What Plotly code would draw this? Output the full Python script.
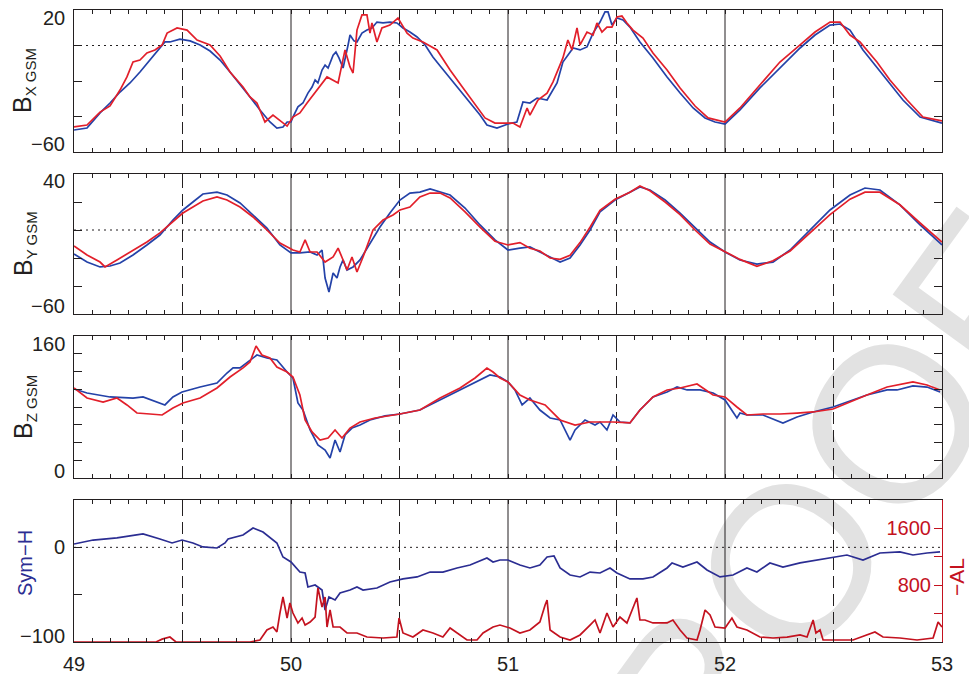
import plotly.graph_objects as go

# ---------------- data (day of year, values) ----------------
bx_a_t = [49.000, 49.060, 49.120, 49.166, 49.212, 49.258, 49.304, 49.350, 49.396, 49.419, 49.442, 49.488,
          49.535, 49.581, 49.627, 49.673, 49.719, 49.765, 49.811, 49.857, 49.903, 49.935, 49.963, 49.982,
          50.000, 50.009, 50.032, 50.055, 50.078, 50.097, 50.111, 50.124, 50.143, 50.157, 50.171, 50.194,
          50.207, 50.221, 50.240, 50.263, 50.272, 50.290, 50.304, 50.327, 50.350, 50.373, 50.396, 50.424,
          50.456, 50.488, 50.516, 50.548, 50.581, 50.618, 50.654, 50.691, 50.733,
          50.779, 50.825, 50.871, 50.903, 50.949, 51.000, 51.041, 51.069, 51.101, 51.134, 51.180, 51.226,
          51.253, 51.300, 51.332, 51.364, 51.392, 51.424, 51.447, 51.461, 51.479, 51.502, 51.530, 51.562,
          51.608, 51.668, 51.733, 51.793, 51.853, 51.908, 51.954, 52.000, 52.069, 52.161, 52.253, 52.346,
          52.415, 52.484, 52.530, 52.576, 52.636, 52.728, 52.820, 52.899, 53.000]
bx_a = [-47.6, -46.5, -38.0, -32.4, -26.2, -21.1, -14.9, -8.2, -2.0, 2.0, 2.0, 3.6,
        2.6, 0.3, -3.1, -8.2, -14.9, -22.3, -29.0, -36.3, -43.1, -46.5, -45.9, -43.1,
        -43.1, -40.3, -34.6, -32.4, -26.8, -23.4, -19.4, -21.1, -13.8, -11.0, -12.7, -5.4,
        -3.7, -7.0, -12.7, 0.3, 5.9, 2.6, 2.0, 7.0, 8.7, 9.9, 13.2, 12.7,
        13.2, 12.7, 9.9, 7.6, 4.8, 0.3, -6.5, -12.1, -18.3,
        -25.1, -31.8, -39.2, -44.8, -46.5, -44.2, -43.1, -31.8, -32.4, -29.6, -30.7, -21.1,
        -9.3, -1.4, -2.5, -0.8, 7.0, 13.2, 18.9, 18.9, 11.5, 15.5, 14.4, 10.4,
        2.0, -7.0, -17.7, -26.8, -35.2, -40.8, -43.1, -44.2, -36.3, -23.9, -12.7, -1.4,
        5.9, 11.5, 12.1, 8.7, -2.5, -16.6, -30.7, -40.3, -43.7]

bx_b_t = [49.000, 49.060, 49.120, 49.166, 49.212, 49.244, 49.272, 49.304, 49.336, 49.373, 49.406, 49.429,
          49.475, 49.521, 49.567, 49.627, 49.673, 49.719, 49.779, 49.811, 49.843, 49.880, 49.917, 49.949,
          49.982, 50.009, 50.041, 50.074, 50.120, 50.166, 50.217, 50.249, 50.272, 50.286, 50.304, 50.327,
          50.350, 50.364, 50.373, 50.396, 50.419, 50.456, 50.493, 50.535, 50.562, 50.608, 50.673, 50.733,
          50.793, 50.848, 50.894, 50.940, 50.986, 51.023, 51.055, 51.088, 51.101, 51.138, 51.180, 51.207,
          51.253, 51.276, 51.295, 51.318, 51.332, 51.364, 51.392, 51.410, 51.433, 51.456, 51.479, 51.502,
          51.525, 51.548, 51.576, 51.622, 51.668, 51.733, 51.793, 51.862, 51.922, 52.000, 52.069, 52.161,
          52.253, 52.346, 52.415, 52.484, 52.530, 52.576, 52.622, 52.700, 52.760, 52.839, 52.912, 53.000]
bx_b = [-45.9, -44.8, -37.5, -34.0, -25.1, -17.7, -9.3, -8.2, -4.2, -2.5, 0.3, 7.0,
        9.9, 8.7, 3.1, 0.3, -5.9, -14.9, -23.4, -29.0, -32.4, -43.1, -39.2, -42.0,
        -45.4, -40.3, -38.0, -32.4, -25.1, -17.7, -21.1, -2.5, -12.1, -15.5, 8.7, 17.2,
        17.2, 7.0, 12.7, 2.0, 9.9, 11.5, 15.5, 7.0, 4.2, 2.0, -2.5, -13.8,
        -23.9, -33.5, -40.8, -43.7, -43.7, -43.7, -45.9, -35.2, -39.2, -30.7, -26.8, -20.6,
        -7.0, 3.1, -2.5, 9.9, 0.3, 7.6, 5.9, 12.7, 7.6, 10.4, 10.4, 16.1,
        16.6, 12.7, 8.7, 4.2, -4.2, -13.8, -23.9, -34.1, -40.8, -43.1, -35.2, -22.3,
        -9.3, 0.3, 7.6, 13.2, 13.2, 5.9, 2.0, -9.3, -19.4, -30.7, -40.3, -42.5]

by_a_t = [49.000, 49.060, 49.120, 49.166, 49.212, 49.272, 49.336, 49.396, 49.456, 49.502, 49.548, 49.594,
          49.659, 49.705, 49.765, 49.825, 49.889, 49.949, 50.000, 50.041, 50.088, 50.120, 50.143, 50.157,
          50.175, 50.194, 50.212, 50.226, 50.240, 50.258, 50.286, 50.318, 50.364, 50.410, 50.456, 50.502,
          50.548, 50.594, 50.641, 50.687, 50.733, 50.802, 50.871, 50.940, 51.000, 51.055, 51.101, 51.147,
          51.194, 51.240, 51.286, 51.332, 51.378, 51.424, 51.493, 51.562, 51.608, 51.654, 51.724, 51.793,
          51.862, 51.931, 52.000, 52.069, 52.147, 52.221, 52.300, 52.392, 52.484, 52.576, 52.645, 52.714,
          52.806, 52.899, 53.000]
by_a = [-17.1, -22.9, -26.4, -25.7, -23.6, -17.9, -10.7, -3.6, 7.1, 14.3, 20.0, 25.7,
        27.1, 25.0, 19.3, 10.7, 1.4, -10.7, -16.4, -16.4, -15.7, -17.9, -14.3, -34.3,
        -44.3, -30.7, -34.3, -26.4, -21.4, -28.6, -26.4, -21.4, -9.3, 2.1, 12.1, 21.4,
        26.4, 27.1, 29.3, 27.1, 25.0, 15.7, 3.6, -7.1, -14.3, -12.9, -12.1, -15.7,
        -19.3, -22.9, -20.0, -10.7, 0.0, 12.9, 21.4, 27.1, 30.7, 28.6, 21.4, 12.1,
        1.4, -8.6, -15.7, -21.4, -24.3, -22.9, -14.3, 0.0, 14.3, 25.0, 30.0, 28.6,
        17.9, 3.6, -10.7]

by_b_t = [49.000, 49.060, 49.120, 49.143, 49.198, 49.272, 49.336, 49.396, 49.456, 49.502, 49.548, 49.594,
          49.659, 49.705, 49.765, 49.825, 49.889, 49.949, 50.009, 50.041, 50.065, 50.088, 50.120, 50.157,
          50.194, 50.217, 50.240, 50.258, 50.281, 50.304, 50.332, 50.378, 50.424, 50.470, 50.502, 50.548,
          50.594, 50.641, 50.687, 50.733, 50.802, 50.871, 50.940, 51.000, 51.055, 51.101, 51.147, 51.194,
          51.240, 51.286, 51.332, 51.378, 51.424, 51.493, 51.562, 51.608, 51.654, 51.724, 51.793, 51.862,
          51.931, 52.000, 52.069, 52.147, 52.221, 52.300, 52.392, 52.484, 52.576, 52.645, 52.714, 52.806,
          52.899, 53.000]
by_b = [-11.4, -17.9, -22.9, -26.4, -21.4, -14.3, -8.6, -2.1, 5.7, 12.1, 16.4, 20.7,
        23.6, 21.4, 16.4, 9.3, 0.0, -9.3, -14.3, -15.7, -7.1, -15.7, -15.7, -22.9,
        -19.3, -12.9, -21.4, -28.6, -19.3, -30.0, -19.3, 0.0, 7.1, 10.7, 14.3, 16.4,
        23.6, 26.4, 26.4, 22.9, 13.0, 2.0, -8.0, -10.7, -9.0, -13.0, -15.0, -20.0,
        -21.0, -18.0, -9.0, 2.0, 14.0, 22.0, 27.0, 31.4, 28.0, 20.0, 11.0, 0.0,
        -10.0, -15.7, -21.0, -26.0, -22.0, -15.0, -2.0, 11.0, 22.0, 27.0, 27.0, 18.0,
        5.0, -8.6]

bz_a_t = [49.000, 49.060, 49.166, 49.272, 49.318, 49.382, 49.419, 49.456, 49.498, 49.581, 49.659, 49.705,
          49.733, 49.765, 49.797, 49.843, 49.889, 49.935, 49.982, 50.009, 50.032, 50.055, 50.088, 50.124,
          50.157, 50.180, 50.203, 50.226, 50.249, 50.281, 50.318, 50.364, 50.433, 50.502, 50.594, 50.687,
          50.779, 50.848, 50.917, 50.963, 51.000, 51.032, 51.065, 51.101, 51.147, 51.194, 51.240, 51.286,
          51.309, 51.355, 51.401, 51.424, 51.456, 51.484, 51.516, 51.562, 51.608, 51.668, 51.733, 51.779,
          51.825, 51.885, 51.945, 52.000, 52.055, 52.069, 52.101, 52.175, 52.253, 52.267, 52.332, 52.406,
          52.498, 52.562, 52.654, 52.747, 52.793, 52.866, 52.931, 52.991]
bz_a = [100.3, 95.8, 91.3, 90.1, 91.3, 85.6, 82.3, 91.3, 96.9, 102.5, 107.0, 118.3,
        124.0, 124.0, 129.6, 138.6, 135.2, 133.0, 119.4, 112.7, 84.5, 76.6, 54.1, 37.2,
        31.5, 22.5, 42.8, 29.3, 48.5, 56.3, 59.7, 65.4, 69.9, 72.1, 76.6, 87.9,
        99.2, 108.2, 116.1, 113.8, 108.2, 99.2, 82.3, 90.1, 76.6, 67.6, 65.4, 42.8,
        54.1, 65.4, 59.7, 63.1, 54.1, 71.0, 63.1, 62.0, 76.6, 91.3, 96.9, 102.5,
        99.2, 99.2, 95.8, 87.9, 67.6, 73.2, 71.0, 71.0, 63.1, 62.0, 68.7, 74.4,
        80.0, 85.6, 93.5, 99.2, 99.2, 103.7, 102.5, 96.9]

bz_b_t = [49.000, 49.060, 49.134, 49.198, 49.244, 49.290, 49.350, 49.406, 49.456, 49.502, 49.581, 49.659,
          49.719, 49.779, 49.811, 49.839, 49.866, 49.903, 49.935, 49.982, 50.009, 50.041, 50.065, 50.097,
          50.134, 50.171, 50.203, 50.235, 50.272, 50.318, 50.387, 50.502, 50.594, 50.687, 50.779, 50.848,
          50.903, 50.931, 50.963, 51.000, 51.055, 51.101, 51.171, 51.240, 51.309, 51.378, 51.424, 51.484,
          51.562, 51.608, 51.668, 51.733, 51.793, 51.871, 51.945, 52.000, 52.055, 52.101, 52.175, 52.253,
          52.332, 52.406, 52.498, 52.562, 52.654, 52.747, 52.866, 52.931, 52.991]
bz_b = [101.4, 90.1, 85.6, 90.1, 82.3, 73.2, 72.1, 71.0, 78.9, 84.5, 90.1, 101.4,
        113.8, 124.0, 130.7, 148.7, 138.6, 135.2, 125.1, 119.4, 113.8, 93.5, 65.4, 51.9,
        42.8, 45.1, 54.1, 45.1, 56.3, 63.1, 67.6, 72.1, 76.6, 90.1, 101.4, 112.7,
        123.9, 119.4, 112.7, 108.2, 93.5, 87.9, 82.3, 65.4, 59.7, 63.1, 63.1, 63.1,
        62.0, 76.6, 91.3, 99.2, 101.4, 105.9, 93.5, 91.3, 80.0, 71.0, 72.1, 72.1,
        73.2, 74.4, 77.7, 84.5, 93.5, 102.5, 108.2, 104.8, 99.2]

symh_t = [49.000, 49.088, 49.198, 49.318, 49.396, 49.452, 49.498, 49.548, 49.594, 49.659, 49.696, 49.710,
          49.779, 49.825, 49.871, 49.935, 49.963, 50.000, 50.041, 50.065, 50.078, 50.111, 50.143, 50.157,
          50.175, 50.203, 50.226, 50.272, 50.304, 50.332, 50.396, 50.456, 50.516, 50.581, 50.641, 50.700,
          50.765, 50.825, 50.903, 50.931, 50.963, 51.000, 51.055, 51.101, 51.147, 51.180, 51.212, 51.240,
          51.286, 51.332, 51.378, 51.424, 51.470, 51.502, 51.562, 51.622, 51.668, 51.733, 51.756, 51.806,
          51.871, 51.917, 51.977, 52.037, 52.101, 52.147, 52.207, 52.267, 52.346, 52.424, 52.498, 52.562,
          52.636, 52.714, 52.806, 52.866, 52.931, 52.991]
symh = [3.5, 7.7, 9.9, 14.1, 8.8, 4.6, 7.7, 4.6, 0.4, -0.7, 4.6, 8.8,
        13.0, 20.4, 16.2, 4.6, -10.2, -15.5, -26.1, -27.1, -41.9, -39.8, -45.1, -66.2,
        -52.5, -55.6, -48.2, -45.1, -41.9, -45.1, -43.0, -36.6, -33.4, -31.3, -26.1, -26.1,
        -21.8, -18.7, -11.3, -15.5, -13.4, -13.4, -18.7, -21.8, -18.7, -10.2, -9.1, -21.8,
        -29.2, -31.3, -26.1, -27.1, -21.8, -27.1, -33.4, -33.4, -31.3, -21.8, -16.5, -20.8,
        -15.5, -23.9, -31.3, -29.2, -21.8, -26.1, -16.5, -20.8, -16.5, -13.4, -10.2, -8.1,
        -13.4, -6.0, -4.9, -8.1, -6.0, -4.9]

al_t = [49.000, 49.378, 49.406, 49.442, 49.470, 49.811, 49.857, 49.889, 49.917, 49.935, 49.949, 49.963,
        49.982, 49.995, 50.009, 50.032, 50.051, 50.065, 50.088, 50.111, 50.124, 50.143, 50.157, 50.166,
        50.180, 50.194, 50.226, 50.258, 50.304, 50.350, 50.424, 50.488, 50.498, 50.516, 50.562, 50.608,
        50.654, 50.700, 50.733, 50.765, 50.811, 50.857, 50.885, 50.931, 50.963, 51.009, 51.055, 51.101,
        51.147, 51.171, 51.180, 51.194, 51.240, 51.286, 51.332, 51.378, 51.401, 51.424, 51.456, 51.484,
        51.516, 51.548, 51.576, 51.594, 51.608, 51.631, 51.668, 51.733, 51.760, 51.793, 51.825, 51.871,
        51.885, 51.908, 51.931, 51.954, 52.000, 52.032, 52.055, 52.101, 52.161, 52.221, 52.286, 52.346,
        52.378, 52.406, 52.419, 52.438, 52.452, 52.498, 52.590, 52.691, 52.728, 52.806, 52.885, 52.959,
        52.982, 53.000]
al = [0, 0, 40, 70, 0, 0, 28, 169, 211, 141, 408, 634,
      338, 549, 408, 268, 338, 239, 282, 352, 760, 493, 634, 211,
      451, 211, 211, 127, 127, 70, 56, 70, 338, 127, 70, 169,
      127, 70, 197, 127, 28, 28, 127, 211, 239, 197, 127, 169,
      282, 521, 591, 169, 70, 28, 99, 239, 310, 127, 408, 211,
      352, 268, 493, 620, 310, 310, 268, 268, 310, 169, 56, 28,
      169, 451, 380, 211, 197, 338, 211, 169, 70, 56, 70, 99,
      70, 310, 127, 169, 28, 28, 28, 141, 70, 56, 28, 56,
      282, 211]

# ---------------- axis settings ----------------
day_range = [49, 53]
day_lines = [50, 51, 52]
half_day_lines = [49.5, 50.5, 51.5, 52.5]
x_labels = [49, 50, 51, 52, 53]

bx_range, bx_ticks = [-60, 20], [-60, -40, -20, 0, 20]
by_range, by_ticks = [-60, 40], [-60, -40, -20, 0, 20, 40]
bz_range, bz_ticks = [0, 160], [0, 20, 40, 60, 80, 100, 120, 140, 160]
sym_range, sym_ticks = [-100, 50], [-100, -50, 0, 50]
al_range, al_labelled, al_step = [0, 2000], [800, 1600], 400

# y labels at the ends of each axis: (panel, value, text, vertical nudge in px)
y_end_labels = [(0, 20, "20", -8), (0, -60, "\u221260", 8),
                (1, 40, "40", -7), (1, -60, "\u221260", 8),
                (2, 160, "160", -8), (2, 0, "0", 7),
                (3, 0, "0", 0), (3, -100, "\u2212100", 6)]

BLUE = "#2442a8"
RED = "#e21f2a"
NAVY = "#2b2d92"
DARKRED = "#c4121f"
INK = "#231f20"
FONT = "Liberation Sans, Arial, sans-serif"

W, H = 969, 674
x_dom = [74 / W, 942 / W]
panel_px = [(10, 152), (174, 314), (336, 478), (500, 642)]
y_doms = [[1 - b / H, 1 - t / H] for t, b in panel_px]
y_names = ["y", "y2", "y3", "y4"]

fig = go.Figure()

line_kw = dict(width=1.7)
fig.add_trace(go.Scatter(x=bx_a_t, y=bx_a, mode="lines", line=dict(color=BLUE, **line_kw), xaxis="x", yaxis="y"))
fig.add_trace(go.Scatter(x=bx_b_t, y=bx_b, mode="lines", line=dict(color=RED, **line_kw), xaxis="x", yaxis="y"))
fig.add_trace(go.Scatter(x=by_a_t, y=by_a, mode="lines", line=dict(color=BLUE, **line_kw), xaxis="x2", yaxis="y2"))
fig.add_trace(go.Scatter(x=by_b_t, y=by_b, mode="lines", line=dict(color=RED, **line_kw), xaxis="x2", yaxis="y2"))
fig.add_trace(go.Scatter(x=bz_a_t, y=bz_a, mode="lines", line=dict(color=BLUE, **line_kw), xaxis="x3", yaxis="y3"))
fig.add_trace(go.Scatter(x=bz_b_t, y=bz_b, mode="lines", line=dict(color=RED, **line_kw), xaxis="x3", yaxis="y3"))
fig.add_trace(go.Scatter(x=al_t, y=al, mode="lines", line=dict(color=DARKRED, **line_kw), xaxis="x4", yaxis="y5"))
fig.add_trace(go.Scatter(x=symh_t, y=symh, mode="lines", line=dict(color=NAVY, **line_kw), xaxis="x4", yaxis="y4"))

tickfont = dict(family=FONT, size=20, color=INK)


def xaxis_cfg(anchor):
    return dict(domain=x_dom, anchor=anchor, range=day_range, showgrid=False, zeroline=False,
                automargin=False, showline=True, linecolor=INK, linewidth=1, mirror="ticks",
                ticks="inside", ticklen=4, tickcolor=INK, tickvals=x_labels,
                showticklabels=False,
                minor=dict(dtick=1 / 12, tick0=49, ticks="inside", ticklen=4, tickcolor=INK,
                           showgrid=False))


def yaxis_cfg(anchor, dom, rng, tv, mirror="ticks"):
    return dict(domain=dom, anchor=anchor, range=rng, showgrid=False, zeroline=False,
                automargin=False, showline=True, linecolor=INK, linewidth=1, mirror=mirror,
                ticks="inside", ticklen=8, tickcolor=INK, tickvals=tv, showticklabels=False)


fig.update_layout(
    width=W, height=H, margin=dict(l=0, r=0, t=0, b=0, autoexpand=False),
    paper_bgcolor="white", plot_bgcolor="rgba(0,0,0,0)", showlegend=False,
    font=dict(family=FONT, color=INK),
    xaxis=xaxis_cfg("y"),
    xaxis2=xaxis_cfg("y2"),
    xaxis3=xaxis_cfg("y3"),
    xaxis4=xaxis_cfg("y4"),
    yaxis=yaxis_cfg("x", y_doms[0], bx_range, bx_ticks),
    yaxis2=yaxis_cfg("x2", y_doms[1], by_range, by_ticks),
    yaxis3=yaxis_cfg("x3", y_doms[2], bz_range, bz_ticks),
    yaxis4=yaxis_cfg("x4", y_doms[3], sym_range, sym_ticks, mirror=False),
    yaxis5=dict(anchor="x4", overlaying="y4", side="right", range=al_range, showgrid=False,
                zeroline=False, automargin=False, showline=True, linecolor=DARKRED, linewidth=1,
                ticks="inside", ticklen=8, tickcolor=DARKRED, tickvals=al_labelled,
                ticktext=[str(v) for v in al_labelled],
                ticklabelposition="inside", ticklabelstandoff=4,
                tickfont=dict(family=FONT, size=20, color=DARKRED),
                minor=dict(tick0=0, dtick=al_step, ticks="inside", ticklen=8, tickcolor=DARKRED,
                           showgrid=False)),
)

shapes = []
# faint proof stamp drawn underneath everything
cx, cy = 774 / W, 1 - 551 / H
shapes.append(dict(type="rect", xref="paper", yref="paper", x0=cx - 0.005, x1=cx + 0.005,
                   y0=cy - 0.005, y1=cy + 0.005, line=dict(width=0), fillcolor="rgba(0,0,0,0)",
                   layer="below",
                   label=dict(text="PROOF", textangle=-54, textposition="middle center",
                              font=dict(family=FONT, size=222, color="#e2e2e2"))))

# day boundaries (solid), half days (dashed), zero levels (dotted)
for ax in ["", "2", "3", "4"]:
    for d in day_lines:
        shapes.append(dict(type="line", xref="x" + ax, yref=f"y{ax} domain", x0=d, x1=d, y0=0, y1=1,
                           line=dict(color=INK, width=1), layer="below"))
    for d in half_day_lines:
        shapes.append(dict(type="line", xref="x" + ax, yref=f"y{ax} domain", x0=d, x1=d, y0=0, y1=1,
                           line=dict(color=INK, width=1, dash="12px,6px"), layer="below"))
for ax in ["", "2", "4"]:
    shapes.append(dict(type="line", xref=f"x{ax} domain", yref="y" + ax, x0=0, x1=1, y0=0, y1=0,
                       line=dict(color=INK, width=1, dash="2px,4px"), layer="below"))
fig.update_layout(shapes=shapes)

annotations = []
# day labels under the bottom panel
for d in x_labels:
    annotations.append(dict(text=str(d), x=d, y=y_doms[3][0], xref="x4", yref="paper",
                            xanchor="center", yanchor="middle", yshift=-22,
                            showarrow=False, font=tickfont))
# y tick labels at the panel ends
for panel, val, txt, nudge in y_end_labels:
    annotations.append(dict(text=txt, x=x_dom[0], y=val, xref="paper", yref=y_names[panel],
                            xanchor="right", yanchor="middle", xshift=-7, yshift=nudge,
                            showarrow=False, font=tickfont))
# panel titles
for (t, b), comp in zip(panel_px[:3], ["X", "Y", "Z"]):
    annotations.append(dict(text=f"B<sub><span style='font-size:15px'>{comp} GSM</span></sub>",
                            x=24 / W, y=1 - (t + b) / 2 / H,
                            xref="paper", yref="paper", showarrow=False, textangle=-90,
                            xanchor="center", yanchor="middle",
                            font=dict(family=FONT, size=25, color=INK)))
annotations.append(dict(text="Sym\u2212H", x=25 / W, y=1 - 563 / H, xref="paper", yref="paper",
                        showarrow=False, textangle=-90, xanchor="center", yanchor="middle",
                        font=dict(family=FONT, size=20, color=NAVY)))
annotations.append(dict(text="\u2212AL", x=956 / W, y=1 - 577 / H, xref="paper", yref="paper",
                        showarrow=False, textangle=-90, xanchor="center", yanchor="middle",
                        font=dict(family=FONT, size=21, color=DARKRED)))
fig.update_layout(annotations=annotations)

fig.write_html("out.html")
